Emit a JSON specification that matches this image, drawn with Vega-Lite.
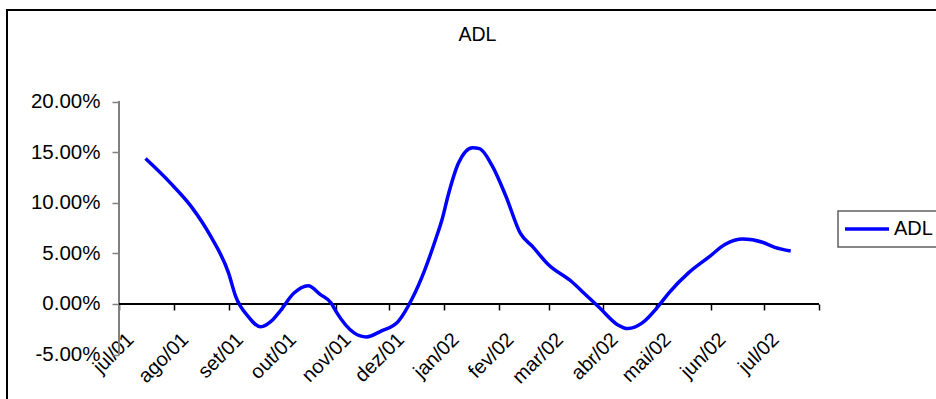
{
  "$schema": "https://vega.github.io/schema/vega-lite/v6.json",
  "width": 935,
  "height": 395,
  "autosize": "none",
  "padding": {"left": 7, "top": 10, "right": 0, "bottom": 0},
  "background": "white",
  "config": {
    "view": {"stroke": "black", "strokeWidth": 2},
    "font": "Liberation Sans",
    "legend": {"strokeWidth": 1.5}
  },
  "title": {
    "text": "ADL",
    "orient": "top",
    "anchor": "middle",
    "frame": "group",
    "offset": -50,
    "baseline": "alphabetic",
    "dx": 3,
    "font": "Liberation Sans",
    "fontSize": 19.5,
    "fontWeight": "normal",
    "color": "black"
  },
  "data": {
    "values": [
      {"date": "2001-07-16", "value": 0.1437, "series": "ADL"},
      {"date": "2001-07-30", "value": 0.1197, "series": "ADL"},
      {"date": "2001-08-11", "value": 0.096, "series": "ADL"},
      {"date": "2001-08-22", "value": 0.0665, "series": "ADL"},
      {"date": "2001-09-01", "value": 0.0305, "series": "ADL"},
      {"date": "2001-09-05", "value": 0.0075, "series": "ADL"},
      {"date": "2001-09-12", "value": -0.0122, "series": "ADL"},
      {"date": "2001-09-19", "value": -0.0225, "series": "ADL"},
      {"date": "2001-09-26", "value": -0.0155, "series": "ADL"},
      {"date": "2001-09-30", "value": -0.0073, "series": "ADL"},
      {"date": "2001-10-08", "value": 0.0108, "series": "ADL"},
      {"date": "2001-10-16", "value": 0.018, "series": "ADL"},
      {"date": "2001-10-23", "value": 0.0092, "series": "ADL"},
      {"date": "2001-10-29", "value": 0.001, "series": "ADL"},
      {"date": "2001-11-01", "value": -0.008, "series": "ADL"},
      {"date": "2001-11-11", "value": -0.0285, "series": "ADL"},
      {"date": "2001-11-18", "value": -0.0325, "series": "ADL"},
      {"date": "2001-11-26", "value": -0.027, "series": "ADL"},
      {"date": "2001-12-06", "value": -0.0171, "series": "ADL"},
      {"date": "2001-12-14", "value": 0.0059, "series": "ADL"},
      {"date": "2001-12-21", "value": 0.0338, "series": "ADL"},
      {"date": "2001-12-27", "value": 0.0633, "series": "ADL"},
      {"date": "2001-12-31", "value": 0.085, "series": "ADL"},
      {"date": "2002-01-03", "value": 0.106, "series": "ADL"},
      {"date": "2002-01-09", "value": 0.139, "series": "ADL"},
      {"date": "2002-01-17", "value": 0.1545, "series": "ADL"},
      {"date": "2002-01-21", "value": 0.1535, "series": "ADL"},
      {"date": "2002-01-28", "value": 0.137, "series": "ADL"},
      {"date": "2002-02-05", "value": 0.106, "series": "ADL"},
      {"date": "2002-02-13", "value": 0.07, "series": "ADL"},
      {"date": "2002-02-20", "value": 0.0567, "series": "ADL"},
      {"date": "2002-03-01", "value": 0.0387, "series": "ADL"},
      {"date": "2002-03-14", "value": 0.0222, "series": "ADL"},
      {"date": "2002-03-22", "value": 0.0092, "series": "ADL"},
      {"date": "2002-03-30", "value": -0.004, "series": "ADL"},
      {"date": "2002-04-09", "value": -0.0204, "series": "ADL"},
      {"date": "2002-04-15", "value": -0.0243, "series": "ADL"},
      {"date": "2002-04-23", "value": -0.0187, "series": "ADL"},
      {"date": "2002-05-02", "value": -0.0024, "series": "ADL"},
      {"date": "2002-05-08", "value": 0.0108, "series": "ADL"},
      {"date": "2002-05-19", "value": 0.0305, "series": "ADL"},
      {"date": "2002-05-31", "value": 0.0468, "series": "ADL"},
      {"date": "2002-06-09", "value": 0.059, "series": "ADL"},
      {"date": "2002-06-19", "value": 0.0642, "series": "ADL"},
      {"date": "2002-06-30", "value": 0.061, "series": "ADL"},
      {"date": "2002-07-07", "value": 0.056, "series": "ADL"},
      {"date": "2002-07-16", "value": 0.0524, "series": "ADL"}
    ]
  },
  "layer": [
    {
      "mark": {"type": "rule", "color": "#808080", "strokeWidth": 2},
      "encoding": {
        "x": {"datum": {"year": 2001, "month": 7, "date": 1, "utc": true}, "type": "temporal"},
        "y": {"datum": -0.05, "type": "quantitative"},
        "y2": {"datum": 0.2}
      }
    },
    {
      "mark": {"type": "rule", "color": "black", "strokeWidth": 1.5},
      "encoding": {
        "x": {"datum": {"year": 2001, "month": 7, "date": 1, "utc": true}, "type": "temporal"},
        "x2": {"datum": {"year": 2002, "month": 8, "date": 1, "utc": true}},
        "y": {"datum": 0, "type": "quantitative"}
      }
    },
    {
      "mark": {"type": "line", "strokeWidth": 3.5, "interpolate": "monotone"},
      "encoding": {
        "x": {
          "field": "date",
          "type": "temporal",
          "scale": {
            "type": "utc",
            "domain": [
              {"year": 2001, "month": 4, "date": 28, "hours": 15, "minutes": 22, "utc": true},
              {"year": 2002, "month": 10, "date": 9, "hours": 14, "utc": true}
            ]
          },
          "axis": {
            "title": null,
            "orient": "bottom",
            "offset": -101,
            "domain": false,
            "grid": false,
            "values": [
              {"year": 2001, "month": 7, "date": 1, "utc": true},
              {"year": 2001, "month": 8, "date": 1, "utc": true},
              {"year": 2001, "month": 9, "date": 1, "utc": true},
              {"year": 2001, "month": 10, "date": 1, "utc": true},
              {"year": 2001, "month": 11, "date": 1, "utc": true},
              {"year": 2001, "month": 12, "date": 1, "utc": true},
              {"year": 2002, "month": 1, "date": 1, "utc": true},
              {"year": 2002, "month": 2, "date": 1, "utc": true},
              {"year": 2002, "month": 3, "date": 1, "utc": true},
              {"year": 2002, "month": 4, "date": 1, "utc": true},
              {"year": 2002, "month": 5, "date": 1, "utc": true},
              {"year": 2002, "month": 6, "date": 1, "utc": true},
              {"year": 2002, "month": 7, "date": 1, "utc": true},
              {"year": 2002, "month": 8, "date": 1, "utc": true}
            ],
            "labelExpr": "(utcyear(datum.value) == 2002 && utcmonth(datum.value) == 7) ? '' : ['jan','fev','mar','abr','mai','jun','jul','ago','set','out','nov','dez'][utcmonth(datum.value)] + '/' + utcFormat(datum.value, '%y')",
            "labelAngle": -45,
            "labelAlign": "right",
            "labelBaseline": "top",
            "labelOffset": 4,
            "labelPadding": 19,
            "labelOverlap": false,
            "labelBound": false,
            "labelFlush": false,
            "labelFont": "Liberation Sans",
            "labelFontSize": 20,
            "labelColor": "black",
            "ticks": true,
            "tickSize": 6,
            "tickColor": "black",
            "tickWidth": 1.5
          }
        },
        "y": {
          "field": "value",
          "type": "quantitative",
          "scale": {"domain": [-0.0998, 0.2905], "zero": false, "nice": false},
          "axis": {
            "title": null,
            "orient": "left",
            "offset": -112,
            "domain": false,
            "grid": false,
            "values": [-0.05, 0, 0.05, 0.1, 0.15, 0.2],
            "labelExpr": "replace(format(datum.value, '.2%'), '\u2212', '-')",
            "labelFont": "Liberation Sans",
            "labelFontSize": 20.5,
            "labelColor": "black",
            "labelPadding": 12,
            "tickSize": 7,
            "tickColor": "#808080",
            "tickWidth": 1.5
          }
        },
        "color": {
          "field": "series",
          "type": "nominal",
          "scale": {"range": ["#0000FF"]},
          "legend": {
            "title": null,
            "orient": "none",
            "legendX": 831,
            "legendY": 201,
            "strokeColor": "#606060",
            "fillColor": "white",
            "padding": 8,
            "symbolType": "M-2,0H6",
            "symbolSize": 121,
            "symbolStrokeWidth": 3.5,
            "labelFont": "Liberation Sans",
            "labelFontSize": 20,
            "labelColor": "black",
            "labelOffset": 28
          }
        }
      }
    }
  ]
}
